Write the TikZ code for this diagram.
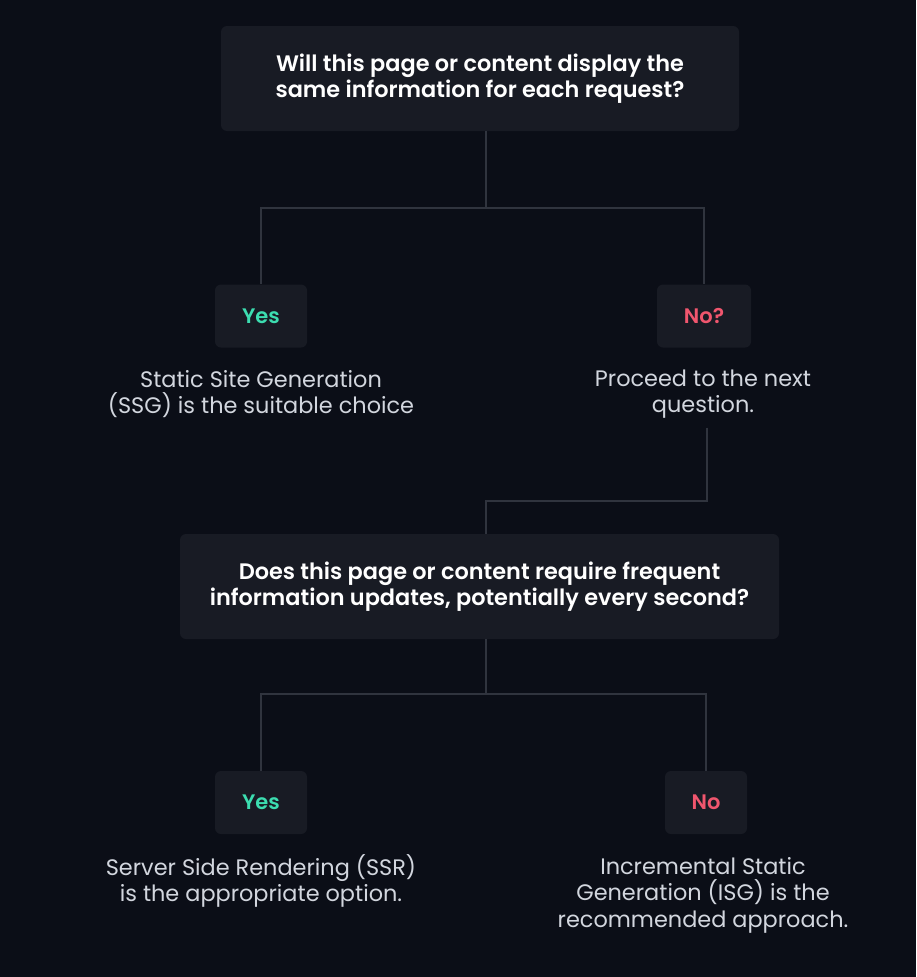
\documentclass[tikz,border=0pt]{standalone}
\usepackage{fontspec}
\setmainfont{Poppins}[BoldFont={Poppins SemiBold}]
\usepackage{xcolor}
\usepackage{tikz}
\usetikzlibrary{positioning}

\definecolor{bgcol}{HTML}{0B0E17}
\definecolor{boxcol}{HTML}{181B24}
\definecolor{linecol}{HTML}{30343E}
\definecolor{desccol}{HTML}{D2D6DE}
\definecolor{yescol}{HTML}{3CDDB0}
\definecolor{nocol}{HTML}{F0566E}

\tikzset{
    question/.style = {fill=boxcol, rounded corners=6pt, text=white, align=center,
                       font=\bfseries\fontsize{22.4}{26.2}\selectfont},
    answer/.style   = {fill=boxcol, rounded corners=6pt, minimum height=63pt,
                       font=\bfseries\fontsize{21}{26}\selectfont},
    outcome/.style  = {text=desccol, align=center, inner sep=9pt,
                       font=\fontsize{22.4}{26.4}\selectfont},
    link/.style     = {draw=linecol, line width=1.6pt},
}

\begin{document}
\begin{tikzpicture}[x=1pt, y=-1pt]
    \useasboundingbox (0,0) rectangle (916,977);
    \fill [bgcol] (0,0) rectangle (916,977);

    \node (q1) [question, minimum width=518pt, minimum height=105pt] at (480,78.5)
        {Will this page or content display the\\same information for each request?};
    \node (yes1) [answer, minimum width=92pt, text=yescol] at (261,316) {Yes};
    \node (no1)  [answer, minimum width=94pt, text=nocol]  at (704,316) {No?};
    \node (ssg)  [outcome] at (261,394) {Static Site Generation\\(SSG) is the suitable choice};
    \node (next) [outcome] at (703,394) {Proceed to the next\\question.};

    \node (q2) [question, minimum width=599pt, minimum height=105pt] at (479.5,586.5)
        {Does this page or content require frequent\\information updates, potentially every second?};
    \node (yes2) [answer, minimum width=92pt, text=yescol] at (261,802.5) {Yes};
    \node (no2)  [answer, minimum width=82pt, text=nocol]  at (706,802.5) {No};
    \node (ssr)  [outcome] at (261,881) {Server Side Rendering (SSR)\\is the appropriate option.};
    \node (isg)  [outcome] at (703,895) {Incremental Static\\Generation (ISG) is the\\recommended approach.};

    \coordinate (j1) at (486,208);
    \coordinate (j2) at (707,501);
    \coordinate (j3) at (486,501);
    \coordinate (j4) at (486,694);

\path [link]
    (q1.south -| j1) -- (j1)
    (j1) -| (yes1.north)
    (j1) -| (no1.north)
    (next.south -| j2) -- (j2) -- (j3) -- (q2.north -| j3)
    (q2.south -| j4) -- (j4)
    (j4) -| (yes2.north)
    (j4) -| (no2.north);

\end{tikzpicture}
\end{document}
